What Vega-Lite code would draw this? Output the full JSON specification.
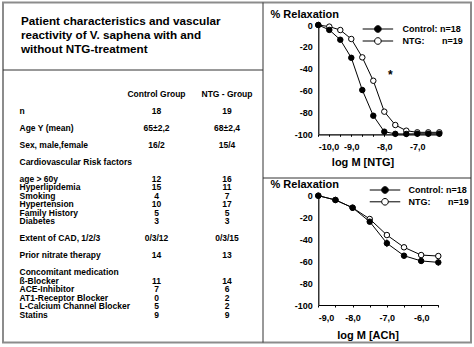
{
  "$schema": "https://vega.github.io/schema/vega-lite/v6.json",
  "width": 468,
  "height": 340,
  "autosize": {"type": "none"},
  "padding": {"left": 3, "top": 2.5, "right": 3, "bottom": 4.5},
  "background": "white",
  "config": {
    "view": {"stroke": "#8c8c8c", "strokeWidth": 2},
    "font": "Liberation Sans",
    "axis": {"grid": false, "labelFont": "Liberation Sans", "labelFontWeight": "bold", "labelColor": "black", "labelFontSize": 9, "titleFont": "Liberation Sans", "titleFontWeight": "bold", "titleColor": "black", "titleFontSize": 11, "domainColor": "black", "domainWidth": 1.2, "tickColor": "black"},
    "legend": {"labelFont": "Liberation Sans", "labelFontWeight": "bold", "labelColor": "black", "labelFontSize": 9},
    "locale": {"number": {"decimal": ",", "thousands": ".", "grouping": [3], "currency": ["", ""], "minus": "-"}}
  },
  "title": {
    "text": ["Patient characteristics and vascular", "reactivity of V. saphena with and", "without NTG-treatment"],
    "anchor": "start", "frame": "group", "orient": "top", "dx": 18, "offset": -53.5, "baseline": "top",
    "fontSize": 11.7, "fontWeight": "bold", "font": "Liberation Sans", "color": "black", "lineHeight": 13.7
  },
  "layer": [
    {
      "data": {"values": [{}]},
      "layer": [
        {"mark": {"type": "rule", "color": "#333333", "strokeWidth": 1}, "encoding": {"x": {"value": 260}, "y": {"value": 0}, "y2": {"value": 340}}},
        {"mark": {"type": "rule", "color": "#333333", "strokeWidth": 1}, "encoding": {"y": {"value": 67.5}, "x": {"value": 0}, "x2": {"value": 260}}},
        {"mark": {"type": "rule", "color": "#333333", "strokeWidth": 1}, "encoding": {"y": {"value": 175.5}, "x": {"value": 260}, "x2": {"value": 468}}}
      ]
    },
    {
      "data": {"values": [
        {"row": 0, "item": "", "control": "Control Group", "ntg": "NTG - Group"},
        {"row": 2, "item": "n", "control": "18", "ntg": "19"},
        {"row": 4, "item": "Age Y (mean)", "control": "65±2,2", "ntg": "68±2,4"},
        {"row": 6, "item": "Sex, male,female", "control": "16/2", "ntg": "15/4"},
        {"row": 8, "item": "Cardiovascular Risk factors", "control": "", "ntg": ""},
        {"row": 10, "item": "age > 60y", "control": "12", "ntg": "16"},
        {"row": 11, "item": "Hyperlipidemia", "control": "15", "ntg": "11"},
        {"row": 12, "item": "Smoking", "control": "4", "ntg": "7"},
        {"row": 13, "item": "Hypertension", "control": "10", "ntg": "17"},
        {"row": 14, "item": "Family History", "control": "5", "ntg": "5"},
        {"row": 15, "item": "Diabetes", "control": "3", "ntg": "3"},
        {"row": 17, "item": "Extent of CAD, 1/2/3", "control": "0/3/12", "ntg": "0/3/15"},
        {"row": 19, "item": "Prior nitrate therapy", "control": "14", "ntg": "13"},
        {"row": 21, "item": "Concomitant medication", "control": "", "ntg": ""},
        {"row": 22, "item": "ß-Blocker", "control": "11", "ntg": "14"},
        {"row": 23, "item": "ACE-Inhibitor", "control": "7", "ntg": "6"},
        {"row": 24, "item": "AT1-Receptor Blocker", "control": "0", "ntg": "2"},
        {"row": 25, "item": "L-Calcium Channel Blocker", "control": "5", "ntg": "2"},
        {"row": 26, "item": "Statins", "control": "9", "ntg": "9"}
      ]},
      "layer": [
        {
          "mark": {"type": "text", "align": "left", "baseline": "middle", "fontSize": 8.5, "fontWeight": "bold", "font": "Liberation Sans", "color": "black"},
          "encoding": {
            "x": {"datum": "item", "type": "nominal", "scale": {"type": "point", "domain": ["item"], "range": [16.5, 16.5], "padding": 0}, "axis": null},
            "y": {"field": "row", "type": "quantitative", "scale": {"domain": [0, 26], "range": [91, 312], "nice": false, "zero": false}, "axis": null},
            "text": {"field": "item"}
          }
        },
        {
          "transform": [{"fold": ["control", "ntg"], "as": ["group", "val"]}],
          "mark": {"type": "text", "align": "center", "baseline": "middle", "fontSize": 8.5, "fontWeight": "bold", "font": "Liberation Sans", "color": "black"},
          "encoding": {
            "x": {"field": "group", "type": "nominal", "scale": {"type": "point", "domain": ["control", "ntg"], "range": [153.5, 224], "padding": 0}, "axis": null},
            "y": {"field": "row", "type": "quantitative", "scale": {"domain": [0, 26], "range": [91, 312], "nice": false, "zero": false}, "axis": null},
            "text": {"field": "val"}
          }
        }
      ],
      "resolve": {"scale": {"x": "independent"}}
    },
    {
      "data": {"values": [
        {"dose": -10, "group": "NTG", "value": 0, "sem": 0},
        {"dose": -9.6667, "group": "NTG", "value": -1.5, "sem": 0.5},
        {"dose": -9.3333, "group": "NTG", "value": -4.6, "sem": 0.8},
        {"dose": -9, "group": "NTG", "value": -12.8, "sem": 1.2},
        {"dose": -8.6667, "group": "NTG", "value": -29.6, "sem": 1.8},
        {"dose": -8.3333, "group": "NTG", "value": -51, "sem": 2.5},
        {"dose": -8, "group": "NTG", "value": -79.3, "sem": 2},
        {"dose": -7.6667, "group": "NTG", "value": -91.5, "sem": 1.2},
        {"dose": -7.3333, "group": "NTG", "value": -96.7, "sem": 0.8},
        {"dose": -7, "group": "NTG", "value": -98.2, "sem": 0.5},
        {"dose": -6.6667, "group": "NTG", "value": -98.2, "sem": 0.5},
        {"dose": -6.3333, "group": "NTG", "value": -98.2, "sem": 0.5},
        {"dose": -10, "group": "Control", "value": 0, "sem": 0},
        {"dose": -9.6667, "group": "Control", "value": -4.5, "sem": 0.8},
        {"dose": -9.3333, "group": "Control", "value": -13.5, "sem": 1.2},
        {"dose": -9, "group": "Control", "value": -30, "sem": 2},
        {"dose": -8.6667, "group": "Control", "value": -59.5, "sem": 2.5},
        {"dose": -8.3333, "group": "Control", "value": -83, "sem": 2},
        {"dose": -8, "group": "Control", "value": -97.6, "sem": 0.8},
        {"dose": -7.6667, "group": "Control", "value": -99.6, "sem": 0.3},
        {"dose": -7.3333, "group": "Control", "value": -99.7, "sem": 0.3},
        {"dose": -7, "group": "Control", "value": -99.5, "sem": 0.3},
        {"dose": -6.6667, "group": "Control", "value": -99.5, "sem": 0.3},
        {"dose": -6.3333, "group": "Control", "value": -99.5, "sem": 0.3}
      ]},
      "encoding": {
        "x": {"field": "dose", "type": "quantitative",
          "scale": {"domain": [-10, -6.3333], "range": [315.3, 436.3], "nice": false, "zero": false},
          "axis": {"orient": "bottom", "offset": -208.2, "values": [-10, -9.6667, -9.3333, -9, -8.6667, -8.3333, -8, -7.6667, -7.3333, -7, -6.6667, -6.3333],
            "labelExpr": "abs(datum.value - round(datum.value)) < 0.01 ? replace(replace(format(datum.value, '.1f'), '.', ','), '−', '-') : ''",
            "tickSize": 2, "labelPadding": 6, "labelFontSize": 9,
            "title": "log M [NTG]", "titleX": 359.5, "titleY": 28, "titleAlign": "center", "titleBaseline": "middle"}},
        "y": {"field": "value", "type": "quantitative",
          "scale": {"domain": [-100, 0], "range": [131.8, 22.5], "nice": false, "zero": false},
          "axis": {"orient": "left", "offset": -315.3, "values": [0, -20, -40, -60, -80, -100], "ticks": false, "tickSize": 0, "labelPadding": 6,
            "labelExpr": "replace(format(datum.value, 'd'), '−', '-')",
            "title": "% Relaxation", "titleAngle": 0, "titleX": -48.3, "titleY": 11.5, "titleAlign": "left", "titleBaseline": "middle"}}
      },
      "layer": [
        {"mark": {"type": "errorbar", "color": "black", "thickness": 1}, "encoding": {"yError": {"field": "sem"}, "detail": {"field": "group"}}},
        {"mark": {"type": "line", "color": "black", "strokeWidth": 1}, "encoding": {"detail": {"field": "group"}}},
        {"mark": {"type": "point", "shape": "circle", "filled": true, "stroke": "black", "strokeWidth": 1, "size": 30, "opacity": 1},
          "encoding": {"fill": {"field": "group", "type": "nominal", "scale": {"domain": ["Control", "NTG"], "range": ["black", "white"]},
            "legend": {"title": null, "orient": "none", "legendX": 370.4, "legendY": 22, "padding": 0, "symbolOffset": 0,
              "symbolType": "M -4.6 0 L -1 0 M 1 0 L 4.6 0 M -1 0 A 1 1 0 1 0 1 0 A 1 1 0 1 0 -1 0 Z",
              "symbolSize": 44, "symbolStrokeColor": "black", "symbolStrokeWidth": 1, "labelOffset": 20, "rowPadding": 1,
              "labelExpr": "datum.label == 'Control' ? 'Control: n=18' : 'NTG:\u00a0\u00a0\u00a0\u00a0\u00a0\u00a0 n=19'"}}}},
        {"data": {"values": [{"dose": -7.82, "value": -45.5, "note": "*"}]},
          "mark": {"type": "text", "fontSize": 12, "fontWeight": "bold", "color": "black", "baseline": "middle"},
          "encoding": {"text": {"field": "note"}}}
      ]
    },
    {
      "data": {"values": [
        {"dose": -9, "group": "NTG", "value": 0, "sem": 0},
        {"dose": -8.5, "group": "NTG", "value": -3.9, "sem": 0.5},
        {"dose": -8, "group": "NTG", "value": -11, "sem": 1},
        {"dose": -7.5, "group": "NTG", "value": -21.3, "sem": 1.5},
        {"dose": -7, "group": "NTG", "value": -36, "sem": 1.5},
        {"dose": -6.5, "group": "NTG", "value": -47.2, "sem": 2},
        {"dose": -6, "group": "NTG", "value": -54.3, "sem": 2},
        {"dose": -5.5, "group": "NTG", "value": -55.2, "sem": 2},
        {"dose": -9, "group": "Control", "value": 0, "sem": 0},
        {"dose": -8.5, "group": "Control", "value": -3.9, "sem": 0.5},
        {"dose": -8, "group": "Control", "value": -11, "sem": 1},
        {"dose": -7.5, "group": "Control", "value": -23.8, "sem": 1.5},
        {"dose": -7, "group": "Control", "value": -43.5, "sem": 3.5},
        {"dose": -6.5, "group": "Control", "value": -54.9, "sem": 2.5},
        {"dose": -6, "group": "Control", "value": -59.7, "sem": 2.5},
        {"dose": -5.5, "group": "Control", "value": -61, "sem": 3}
      ]},
      "encoding": {
        "x": {"field": "dose", "type": "quantitative",
          "scale": {"domain": [-9, -5.5], "range": [315.3, 435.3], "nice": false, "zero": false},
          "axis": {"orient": "bottom", "offset": -37.5, "values": [-9, -8.5, -8, -7.5, -7, -6.5, -6, -5.5],
            "labelExpr": "abs(datum.value - round(datum.value)) < 0.01 ? replace(replace(format(datum.value, '.1f'), '.', ','), '−', '-') : ''",
            "tickSize": 2, "labelPadding": 6, "labelFontSize": 9,
            "title": "log M [ACh]", "titleX": 364.5, "titleY": 30, "titleAlign": "center", "titleBaseline": "middle"}},
        "y": {"field": "value", "type": "quantitative",
          "scale": {"domain": [-100, 0], "range": [302.5, 193.2], "nice": false, "zero": false},
          "axis": {"orient": "left", "offset": -315.3, "values": [0, -20, -40, -60, -80, -100], "ticks": false, "tickSize": 0, "labelPadding": 6,
            "labelExpr": "replace(format(datum.value, 'd'), '−', '-')",
            "title": "% Relaxation", "titleAngle": 0, "titleX": -48.3, "titleY": 181.8, "titleAlign": "left", "titleBaseline": "middle"}}
      },
      "layer": [
        {"mark": {"type": "errorbar", "color": "black", "thickness": 1}, "encoding": {"yError": {"field": "sem"}, "detail": {"field": "group"}}},
        {"mark": {"type": "line", "color": "black", "strokeWidth": 1}, "encoding": {"detail": {"field": "group"}}},
        {"mark": {"type": "point", "shape": "circle", "filled": true, "stroke": "black", "strokeWidth": 1, "size": 30, "opacity": 1},
          "encoding": {"fill": {"field": "group", "type": "nominal", "scale": {"domain": ["Control", "NTG"], "range": ["black", "white"]},
            "legend": {"title": null, "orient": "none", "legendX": 377.5, "legendY": 183, "padding": 0, "symbolOffset": 0,
              "symbolType": "M -4.6 0 L -1 0 M 1 0 L 4.6 0 M -1 0 A 1 1 0 1 0 1 0 A 1 1 0 1 0 -1 0 Z",
              "symbolSize": 44, "symbolStrokeColor": "black", "symbolStrokeWidth": 1, "labelOffset": 19, "rowPadding": 0.8,
              "labelExpr": "datum.label == 'Control' ? 'Control: n=18' : 'NTG:\u00a0\u00a0\u00a0\u00a0\u00a0\u00a0 n=19'"}}}}
      ]
    }
  ],
  "resolve": {
    "scale": {"x": "independent", "y": "independent", "fill": "independent"},
    "axis": {"x": "independent", "y": "independent"},
    "legend": {"fill": "independent"}
  }
}
